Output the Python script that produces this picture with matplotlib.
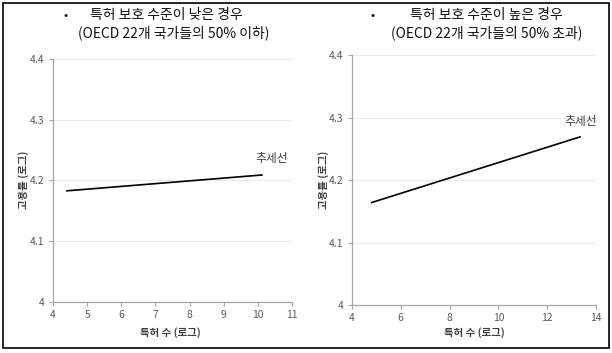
import matplotlib
matplotlib.use('Agg')
import matplotlib.pyplot as plt
from matplotlib.patches import Rectangle

plt.rcParams['font.family'] = ['Noto Sans CJK KR', 'DejaVu Sans']

# trend line end points
low_x = [4.41, 10.12]
low_y = [4.183, 4.209]
high_x = [4.81, 13.34]
high_y = [4.164, 4.269]

low_xticks = [4, 5, 6, 7, 8, 9, 10, 11]
high_xticks = [4, 6, 8, 10, 12, 14]
yticks = [4, 4.1, 4.2, 4.3, 4.4]
ytick_labels = ['4', '4.1', '4.2', '4.3', '4.4']

title_lines = [('특허 보호 수준이 낮은 경우', '(OECD 22개 국가들의 50% 이하)'),
               ('특허 보호 수준이 높은 경우', '(OECD 22개 국가들의 50% 초과)')]
xlabel = '특허 수 (로그)'
ylabel = '고용률 (로그)'
trend_label = '추세선'

fig = plt.figure(figsize=(6.12, 3.53), dpi=100)
fig.patches.append(Rectangle((0.005, 0.014), 0.99, 0.977, transform=fig.transFigure,
                             fill=False, edgecolor='black', linewidth=1.2))

panels = [
    dict(rect=[0.0866, 0.1445, 0.3904, 0.6885], x=low_x, y=low_y, xt=low_xticks,
         xlim=(4, 11), lab=(10.41, 4.225), title=title_lines[0], t1x=0.272, t2x=0.283,
         bx=0.108, ylx=0.039, xlx=0.278),
    dict(rect=[0.575, 0.136, 0.399, 0.708], x=high_x, y=high_y, xt=high_xticks,
         xlim=(4, 14), lab=(13.39, 4.283), title=title_lines[1], t1x=0.795, t2x=0.796,
         bx=0.609, ylx=0.528, xlx=0.775),
]

for p in panels:
    ax = fig.add_axes(p['rect'])
    ax.plot(p['x'], p['y'], color='black', linewidth=1.2)
    ax.set_xlim(*p['xlim'])
    ax.set_ylim(4, 4.4)
    ax.set_xticks(p['xt'])
    ax.set_xticklabels([str(v) for v in p['xt']])
    ax.set_yticks(yticks)
    ax.set_yticklabels(ytick_labels)
    ax.grid(axis='y', color='#ebebeb', linewidth=0.8)
    ax.set_axisbelow(True)
    for s in ['top', 'right']:
        ax.spines[s].set_visible(False)
    for s in ['left', 'bottom']:
        ax.spines[s].set_color('#a6a6a6')
        ax.spines[s].set_linewidth(0.9)
    ax.tick_params(length=3, width=0.8, color='#a6a6a6', labelsize=7.5,
                   labelcolor='#595959', pad=3)
    ax.text(p['lab'][0], p['lab'][1], trend_label, fontsize=8.5, color='#404040',
            ha='center', va='bottom')
    fig.text(p['t1x'], 0.957, p['title'][0], fontsize=10, ha='center', va='center',
             color='#111111')
    fig.text(p['t2x'], 0.906, p['title'][1], fontsize=10, ha='center', va='center',
             color='#111111')
    fig.text(p['bx'], 0.957, '•', fontsize=9, ha='center', va='center',
             color='#111111')
    fig.text(p['ylx'], 0.49, ylabel, rotation=90, fontsize=7.5, fontweight='bold',
             color='#404040', ha='center', va='center')
    fig.text(p['xlx'], 0.057, xlabel, fontsize=7.5, fontweight='bold',
             color='#404040', ha='center', va='center')

fig.savefig('out.png', dpi=100)
